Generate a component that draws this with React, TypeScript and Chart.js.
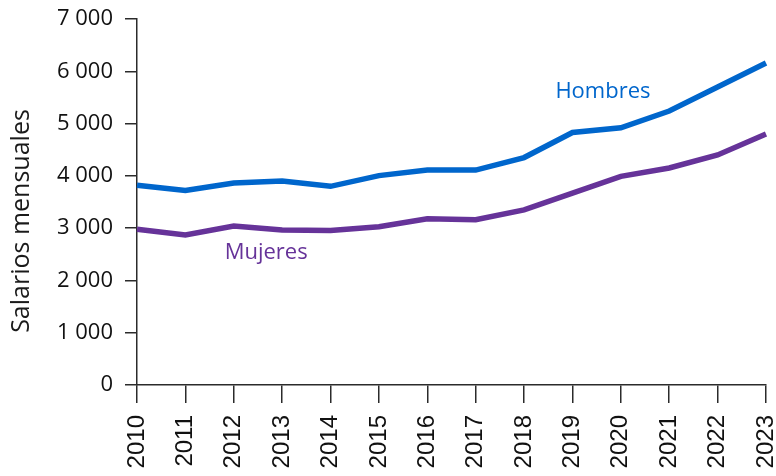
import React, { useEffect, useRef } from "react";
import { Chart, registerables } from "chart.js";

Chart.register(...registerables);

const years = ["2010", "2011", "2012", "2013", "2014", "2015", "2016", "2017", "2018", "2019", "2020", "2021", "2022", "2023"];
const hombres = [3820, 3720, 3865, 3900, 3800, 4005, 4110, 4110, 4350, 4830, 4920, 5240, 5700, 6160];
const mujeres = [2980, 2870, 3040, 2965, 2955, 3025, 3180, 3160, 3350, 3670, 3990, 4150, 4400, 4800];
const yTicks = [0, 1000, 2000, 3000, 4000, 5000, 6000, 7000];
const yTitle = "Salarios mensuales";
const seriesNames = ["Hombres", "Mujeres"];
const seriesColors = ["#0066cc", "#663399"];
// label anchors in data units: [category index, value]
const labelAnchors = [
  [9.63, 5490],
  [2.67, 2410],
];

const AXIS = "#2b2b2b";

function fmt(v: number): string {
  return String(v).replace(/\B(?=(\d{3})+(?!\d))/g, " ");
}

export default function App() {
  const ref = useRef<HTMLCanvasElement | null>(null);

  useEffect(() => {
    if (!ref.current) return;

    const annotations = {
      id: "annotations",
      afterDatasetsDraw(chart: any) {
        const { ctx, scales, chartArea } = chart;
        ctx.save();
        ctx.font = "22px 'Open Sans'";
        ctx.textAlign = "center";
        ctx.textBaseline = "alphabetic";
        labelAnchors.forEach((a, i) => {
          ctx.fillStyle = seriesColors[i];
          ctx.fillText(seriesNames[i], scales.x.getPixelForValue(a[0]), scales.y.getPixelForValue(a[1]));
        });
        // y-axis title
        ctx.fillStyle = "#1a1a1a";
        ctx.font = "25px 'Open Sans'";
        ctx.translate(22, (chartArea.top + chartArea.bottom) / 2 + 19);
        ctx.rotate(-Math.PI / 2);
        ctx.textBaseline = "middle";
        ctx.fillText(yTitle, 0, 0);
        ctx.restore();
      },
    };

    const chart = new Chart(ref.current, {
      type: "line",
      data: {
        labels: years,
        datasets: [
          {
            label: seriesNames[0],
            data: hombres,
            borderColor: seriesColors[0],
            backgroundColor: seriesColors[0],
            borderWidth: 5.5,
            pointRadius: 0,
            tension: 0,
          },
          {
            label: seriesNames[1],
            data: mujeres,
            borderColor: seriesColors[1],
            backgroundColor: seriesColors[1],
            borderWidth: 5.5,
            pointRadius: 0,
            tension: 0,
          },
        ],
      },
      options: {
        animation: false,
        responsive: false,
        maintainAspectRatio: false,
        layout: { padding: { top: 19, right: 10, left: 0, bottom: 0 } },
        plugins: {
          legend: { display: false },
          tooltip: { enabled: false },
        },
        scales: {
          x: {
            type: "category",
            offset: false,
            border: { display: true, color: AXIS, width: 1.5 },
            grid: { display: true, drawOnChartArea: false, drawTicks: true, tickLength: 18, color: AXIS, lineWidth: 1.5 },
            ticks: {
              autoSkip: false,
              minRotation: 90,
              maxRotation: 90,
              padding: 12,
              color: "#111",
              font: { family: "'Liberation Sans', Arial, sans-serif", size: 24 },
            },
            afterFit: (s: any) => {
              s.height = 91;
              s.paddingLeft = 0;
              s.paddingRight = 0;
            },
          },
          y: {
            min: 0,
            max: 7000,
            border: { display: true, color: AXIS, width: 1.5 },
            grid: { display: true, drawOnChartArea: false, drawTicks: true, tickLength: 12, color: AXIS, lineWidth: 1.5 },
            afterBuildTicks: (s: any) => {
              s.ticks = yTicks.map((v) => ({ value: v }));
            },
            ticks: {
              padding: 12,
              color: "#111",
              font: { family: "'Open Sans', sans-serif", size: 22 },
              callback: (v: any) => fmt(Number(v)),
            },
            afterFit: (s: any) => {
              s.width = 137;
              s.paddingTop = 0;
              s.paddingBottom = 0;
            },
          },
        },
      },
      plugins: [annotations],
    });

    return () => chart.destroy();
  }, []);

  return (
    <div style={{ position: "fixed", left: 0, top: 0, width: 776, height: 476, background: "#fff" }}>
      <canvas ref={ref} width={776} height={476} style={{ width: 776, height: 476, display: "block" }} />
    </div>
  );
}
